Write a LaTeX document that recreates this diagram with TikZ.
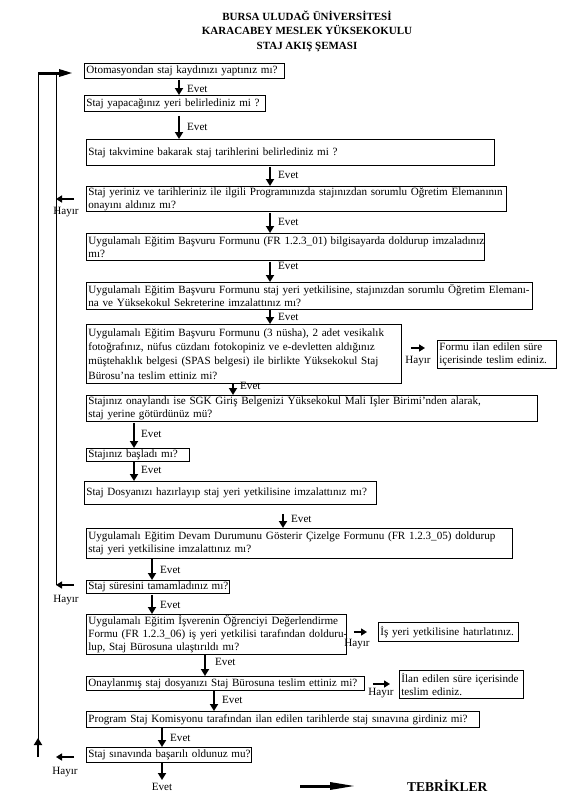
\documentclass[tikz,border=0pt]{standalone}
\usepackage{fontspec}
\setmainfont{Liberation Serif}
\usetikzlibrary{arrows.meta,calc}
\begin{document}
\begin{tikzpicture}[x=1pt,y=-1pt,
  box/.style={draw, line width=0.8pt, anchor=north west, inner xsep=2pt, inner ysep=0pt, align=left,
    font=\fontsize{11.1}{13}\selectfont},
  arr/.style={line width=2.8pt, -{Triangle[length=7pt,width=8pt]}},
  harr/.style={line width=2.8pt, -{Triangle[length=6pt,width=7pt]}},
  bigarr/.style={line width=3pt, -{Triangle[length=14pt,width=7pt]}},
  longarr/.style={line width=3pt, -{Triangle[length=26pt,width=7pt]}},
  thinline/.style={line width=0.9pt},
  lab/.style={font=\fontsize{11.1}{13}\selectfont, inner sep=1pt},
  evetlab/.style={lab, anchor=west},
  titlefont/.style={font=\fontsize{11}{14.5}\selectfont\bfseries, align=center}]
\useasboundingbox (0,0) rectangle (565,800);

% title
\node[titlefont] (title) at (307,31) {BURSA ULUDAĞ ÜNİVERSİTESİ\\KARACABEY MESLEK YÜKSEKOKULU\\STAJ AKIŞ ŞEMASI};

% boxes
\node[box, text width=196pt, minimum height=15pt] (b1) at (84,63) {\mbox{Otomasyondan staj kaydınızı yaptınız mı?}};
\node[box, text width=177pt, minimum height=16pt] (b2) at (84,95) {\mbox{Staj yapacağınız yeri belirlediniz mi ?}};
\node[box, text width=404pt, minimum height=26pt] (b3) at (86,139) {\mbox{Staj takvimine bakarak staj tarihlerini belirlediniz mi ?}};
\node[box, text width=416pt, minimum height=25pt] (b4) at (86,186) {\mbox{Staj yeriniz ve tarihleriniz ile ilgili Programınızda stajınızdan sorumlu Öğretim Elemanının}\\\mbox{onayını aldınız mı?}};
\node[box, text width=394pt, minimum height=27pt] (b5) at (86,233) {\mbox{Uygulamalı Eğitim Başvuru Formunu (FR 1.2.3\_01) bilgisayarda doldurup imzaladınız}\\\mbox{mı?}};
\node[box, text width=442pt, minimum height=27pt] (b6) at (86,282) {\mbox{Uygulamalı Eğitim Başvuru Formunu staj yeri yetkilisine, stajınızdan sorumlu Öğretim Elemanı-}\\\mbox{na ve Yüksekokul Sekreterine imzalattınız mı?}};
\node[box, text width=311pt, minimum height=59pt, font=\fontsize{11.1}{14.3}\selectfont] (b7) at (86,324) {\mbox{Uygulamalı Eğitim Başvuru Formunu (3 nüsha), 2 adet vesikalık}\\\mbox{fotoğrafınız, nüfus cüzdanı fotokopiniz ve e-devletten aldığınız}\\\mbox{müştehaklık belgesi (SPAS belgesi) ile birlikte Yüksekokul Staj}\\\mbox{Bürosu’na teslim ettiniz mi?}};
\node[box, text width=115pt, minimum height=28pt] (b7b) at (437,340) {\mbox{Formu ilan edilen süre}\\\mbox{içerisinde teslim ediniz.}};
\node[box, text width=447pt, minimum height=26pt] (b8) at (86,395) {\mbox{Stajınız onaylandı ise SGK Giriş Belgenizi Yüksekokul Mali Işler Birimi’nden alarak,}\\\mbox{staj yerine götürdünüz mü?}};
\node[box, text width=99pt, minimum height=13pt] (b9) at (86,448) {\mbox{Stajınız başladı mı?}};
\node[box, text width=288pt, minimum height=23pt] (b10) at (84,481) {\mbox{Staj Dosyanızı hazırlayıp staj yeri yetkilisine imzalattınız mı?}};
\node[box, text width=422pt, minimum height=30pt] (b11) at (86,528) {\mbox{Uygulamalı Eğitim Devam Durumunu Gösterir Çizelge Formunu (FR 1.2.3\_05) doldurup}\\\mbox{staj yeri yetkilisine imzalattınız mı?}};
\node[box, text width=139pt, minimum height=13pt] (b12) at (86,580) {\mbox{Staj süresini tamamladınız mı?}};
\node[box, text width=256pt, minimum height=40pt] (b13) at (86,614) {\mbox{Uygulamalı Eğitim İşverenin Öğrenciyi Değerlendirme}\\\mbox{Formu (FR 1.2.3\_06) iş yeri yetkilisi tarafından dolduru-}\\\mbox{lup, Staj Bürosuna ulaştırıldı mı?}};
\node[box, text width=136pt, minimum height=19pt] (b13b) at (378,622) {\mbox{İş yeri yetkilisine hatırlatınız.}};
\node[box, text width=274pt, minimum height=14pt] (b14) at (86,676) {\mbox{Onaylanmış staj dosyanızı Staj Bürosuna teslim ettiniz mi?}};
\node[box, text width=120pt, minimum height=28pt] (b14b) at (399,670) {\mbox{İlan edilen süre içerisinde}\\\mbox{teslim ediniz.}};
\node[box, text width=389pt, minimum height=16pt] (b15) at (86,711) {\mbox{Program Staj Komisyonu tarafından ilan edilen tarihlerde staj sınavına girdiniz mi?}};
\node[box, text width=161pt, minimum height=15pt] (b16) at (86,747) {\mbox{Staj sınavında başarılı oldunuz mu?}};

% column coordinates
\coordinate (c179) at (179,0);
\coordinate (c270) at (270,0);
\coordinate (c233) at (233,0);
\coordinate (c134) at (134,0);
\coordinate (c283) at (283,0);
\coordinate (c152) at (152,0);
\coordinate (c205) at (205,0);
\coordinate (c214) at (214,0);
\coordinate (c162) at (162,0);

% Evet arrows
\draw[arr, shorten <=1pt] (b1.south -| c179) -- (b2.north -| c179);
\draw[arr, shorten <=4pt] (b2.south -| c179) -- (b3.north -| c179);
\draw[arr, shorten <=1pt] (b3.south -| c270) -- (b4.north -| c270);
\draw[arr, shorten <=1pt] (b4.south -| c270) -- (b5.north -| c270);
\draw[arr, shorten <=1pt] (b5.south -| c270) -- (b6.north -| c270);
\draw[arr] (b6.south -| c270) -- (b7.north -| c270);
\draw[arr] (b7.south -| c233) -- (b8.north -| c233);
\draw[arr, shorten <=1pt] (b8.south -| c134) -- (b9.north -| c134);
\draw[arr] (b9.south -| c134) -- (b10.north -| c134);
\draw[arr, shorten <=9pt] (b10.south -| c283) -- (b11.north -| c283);
\draw[arr] (b11.south -| c152) -- (b12.north -| c152);
\draw[arr, shorten <=1pt] (b12.south -| c152) -- (b13.north -| c152);
\draw[arr] (b13.south -| c205) -- (b14.north -| c205);
\draw[arr] (b14.south -| c214) -- (b15.north -| c214);
\draw[arr] (b15.south -| c162) -- (b16.north -| c162);
\coordinate (e16) at (162,780);
\draw[arr] (b16.south -| c162) -- (e16);

\node[evetlab] (l1) at (186,89) {Evet};
\node[evetlab] (l2) at (186,127) {Evet};
\node[evetlab] (l3) at (277,175) {Evet};
\node[evetlab] (l4) at (277,222) {Evet};
\node[evetlab] (l5) at (277,266) {Evet};
\node[evetlab] (l6) at (277,317) {Evet};
\node[evetlab] (l7) at (239,386) {Evet};
\node[evetlab] (l8) at (140,434) {Evet};
\node[evetlab] (l9) at (140,470) {Evet};
\node[evetlab] (l10) at (290,519) {Evet};
\node[evetlab] (l11) at (159,570) {Evet};
\node[evetlab] (l12) at (159,605) {Evet};
\node[evetlab] (l13) at (214,662) {Evet};
\node[evetlab] (l14) at (221,700) {Evet};
\node[evetlab] (l15) at (169,738) {Evet};
\node[lab] (l16) at (162,787) {Evet};

% loop lines
\coordinate (lt) at (38,73);
\coordinate (lb) at (38,742);
\coordinate (lbot) at (38,757);
\coordinate (lhead) at (38,738);
\coordinate (it) at (56,73);
\coordinate (ib) at (56,585);
\draw[thinline] (lb) -- (lt);
\draw[bigarr, shorten >=11pt] (lt) -- (b1.west |- lt);
\draw[thinline] (it) -- (ib);
\draw[arr] (lbot) -- (lhead);

% Hayir arrows (left)
\coordinate (h4y) at (0,199);
\coordinate (h12y) at (0,585);
\coordinate (h16y) at (0,757);
\draw[harr, shorten <=12pt] (b4.west |- h4y) -- (it |- h4y);
\draw[harr, shorten <=12pt] (b12.west |- h12y) -- (it |- h12y);
\draw[harr, shorten <=12pt] (b16.west |- h16y) -- (it |- h16y);
\node[lab] (hl4) at (66,212) {Hayır};
\node[lab] (hl12) at (66,600) {Hayır};
\node[lab] (hl16) at (65,772) {Hayır};

% Hayir arrows (right)
\coordinate (h7y) at (0,348);
\coordinate (h13y) at (0,632);
\coordinate (h14y) at (0,684);
\draw[harr, shorten <=9pt, shorten >=12pt] (b7.east |- h7y) -- (b7b.west |- h7y);
\draw[harr, shorten <=7pt, shorten >=11pt] (b13.east |- h13y) -- (b13b.west |- h13y);
\draw[harr, shorten <=8pt, shorten >=9pt] (b14.east |- h14y) -- (b14b.west |- h14y);
\node[lab] (hl7) at (418,361) {Hayır};
\node[lab] (hl13) at (357,644) {Hayır};
\node[lab] (hl14) at (381,693) {Hayır};

% final
\node[font=\fontsize{13.5}{16}\selectfont\bfseries, anchor=west, inner sep=0pt] (teb) at (407,786) {TEBRİKLER};
\coordinate (ts) at (300,786);
\draw[longarr, shorten >=51pt] (ts) -- (teb.west);
\end{tikzpicture}
\end{document}
